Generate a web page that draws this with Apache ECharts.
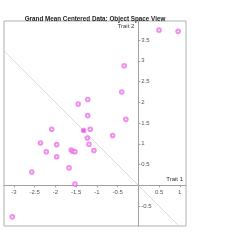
<!DOCTYPE html>
<html>
<head>
<meta charset="utf-8">
<script src="https://cdn.jsdelivr.net/npm/echarts@6/dist/echarts.min.js"></script>
<style>html,body{margin:0;padding:0;background:#fff}#c{width:250px;height:250px}</style>
</head>
<body>
<div id="c"></div>
<script>
const titleText = 'Grand Mean Centered Data: Object Space View';
const xName = 'Trait 1';
const yName = 'Trait 2';
const xRange = [-3.24, 1.15];
const yRange = [-0.98, 3.96];
const trait1 = [0.50, 0.96, -0.34, -0.40, -1.22, -1.45, -1.22, -0.30, -1.16, -2.09, -1.32, -1.23, -0.62, -2.36, -1.97, -1.19, -2.22, -1.62, -1.58, -1.53, -1.07, -1.97, -1.67, -2.57, -1.53, -3.04];
const trait2 = [3.74, 3.71, 2.88, 2.25, 2.07, 1.96, 1.68, 1.59, 1.35, 1.35, 1.32, 1.14, 1.20, 1.02, 0.98, 0.99, 0.81, 0.85, 0.82, 0.81, 0.84, 0.69, 0.42, 0.32, 0.03, -0.76];
const highlightX = [-1.32];
const highlightY = [1.32];
const refLineX = [-3.24, 0.98];
const refLineY = [3.24, -0.98];

const pts = trait1.map((v, i) => [v, trait2[i]]);
const hl = highlightX.map((v, i) => [v, highlightY[i]]);
const ref = refLineX.map((v, i) => [v, refLineY[i]]);
const fmt = v => {
  const r = Math.round(v * 2) / 2;
  if (Math.abs(r - v) > 1e-6 || Math.abs(v) < 1e-9) return '';
  return String(r);
};
const G = {left: 4, top: 21, width: 182, height: 205};
// place the axes through the origin (offset from the grid edges)
const xAxisOffset = -(0 - yRange[0]) / (yRange[1] - yRange[0]) * G.height;
const yAxisOffset = -(0 - xRange[0]) / (xRange[1] - xRange[0]) * G.width;
const chart = echarts.init(document.getElementById('c'), null, {renderer: 'canvas'});
chart.setOption({
  animation: false,
  backgroundColor: '#fff',
  title: {
    text: titleText, left: 90, top: 11, textAlign: 'center',
    textStyle: {fontFamily: 'Liberation Sans', fontSize: 6.3, fontWeight: 'bold', color: '#222'}
  },
  grid: Object.assign({show: true, borderColor: '#b0b0b0', borderWidth: 1, backgroundColor: '#fff'}, G),
  xAxis: {
    type: 'value', min: xRange[0], max: xRange[1], splitNumber: 8,
    position: 'bottom', offset: xAxisOffset,
    name: xName, nameLocation: 'end', nameGap: -1,
    nameTextStyle: {fontFamily: 'Liberation Sans', fontSize: 6, color: '#333', align: 'right', verticalAlign: 'bottom', padding: [0, 2, 3, 0]},
    axisLine: {onZero: false, lineStyle: {color: '#a0a0a0', width: 1}},
    axisTick: {show: true, inside: false, length: 2, lineStyle: {color: '#a0a0a0'}},
    axisLabel: {formatter: fmt, fontFamily: 'Liberation Sans', fontSize: 6, color: '#555', margin: 4, showMinLabel: false, showMaxLabel: false},
    splitLine: {show: false}
  },
  yAxis: {
    type: 'value', min: yRange[0], max: yRange[1], splitNumber: 10,
    position: 'left', offset: yAxisOffset,
    name: yName, nameLocation: 'end', nameGap: -2,
    nameTextStyle: {fontFamily: 'Liberation Sans', fontSize: 6, color: '#333', align: 'right', verticalAlign: 'top', padding: [0, 4, 0, 0]},
    axisLine: {onZero: false, lineStyle: {color: '#a0a0a0', width: 1}},
    axisTick: {show: true, inside: true, length: 2, lineStyle: {color: '#a0a0a0'}},
    axisLabel: {formatter: fmt, inside: true, fontFamily: 'Liberation Sans', fontSize: 6, color: '#555', margin: 3, showMinLabel: false, showMaxLabel: false},
    splitLine: {show: false}
  },
  series: [
    {type: 'line', data: ref, symbol: 'none', lineStyle: {color: '#cccccc', width: 0.7}, silent: true, z: 1},
    {type: 'scatter', data: pts, symbol: 'emptyCircle', symbolSize: 3.6,
     itemStyle: {color: '#ee70ee', borderColor: '#ee70ee', borderWidth: 0.7}, z: 3},
    {type: 'scatter', data: hl, symbol: 'rect', symbolSize: 2.6,
     itemStyle: {color: '#dd44dd', borderWidth: 0}, z: 4}
  ]
});
</script>
</body>
</html>
